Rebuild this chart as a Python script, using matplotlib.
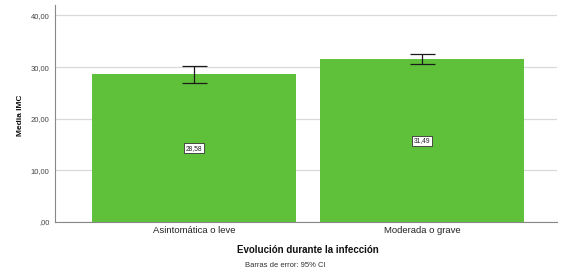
import matplotlib.pyplot as plt

plt.rcParams['font.family'] = ['Liberation Sans', 'DejaVu Sans']

# --- Datos ---
categorias = ["Asintomática o leve", "Moderada o grave"]
medias = [28.58, 31.49]
ic_inf = [26.9, 30.5]
ic_sup = [30.2, 32.5]
etiquetas = ["28,58", "31,49"]
yticks = [0, 10, 20, 30, 40]
ytick_labels = [",00", "10,00", "20,00", "30,00", "40,00"]

verde = "#5fc13a"

fig = plt.figure(figsize=(5.75, 2.77), dpi=100)
ax = fig.add_axes([0.0957, 0.1986, 0.873, 0.783])

x = list(range(len(categorias)))
err = [[m - lo for m, lo in zip(medias, ic_inf)],
       [hi - m for m, hi in zip(medias, ic_sup)]]
ax.bar(x, medias, width=0.895, color=verde, zorder=2)
ax.errorbar(x, medias, yerr=err, fmt="none", ecolor="#1a1a1a",
            elinewidth=0.9, capsize=9, capthick=0.9, zorder=3)

for xi, m, t in zip(x, medias, etiquetas):
    ax.text(xi, m / 2, t, ha="center", va="center", fontsize=4.8,
            color="#222222", zorder=4,
            bbox=dict(boxstyle="square,pad=0.25", fc="white",
                      ec="#333333", lw=0.6))

ax.set_xlim(-0.61, 1.59)
ax.set_ylim(0, 42)
ax.set_yticks(yticks)
ax.set_yticklabels(ytick_labels, fontsize=5.5, color="#444444")
ax.set_xticks(x)
ax.set_xticklabels(categorias, fontsize=6.8, color="#222222")
ax.tick_params(axis="both", length=0, pad=3)
ax.tick_params(axis="y", pad=4)

ax.grid(axis="y", color="#d9d9d9", lw=0.9, zorder=0)
ax.set_axisbelow(True)
for s in ["top", "right"]:
    ax.spines[s].set_visible(False)
for s in ["left", "bottom"]:
    ax.spines[s].set_color("#888888")
    ax.spines[s].set_linewidth(0.8)

fig.text(0.035, 0.585, "Media IMC", rotation=90, ha="center", va="center",
         fontsize=6, fontweight="bold", color="#111111")
fig.text(0.535, 0.099, "Evolución durante la infección", ha="center",
         va="center", fontsize=7, fontweight="bold", color="#111111")
fig.text(0.496, 0.043, "Barras de error: 95% CI", ha="center",
         va="center", fontsize=5.5, color="#333333")

fig.savefig("out.png", dpi=100)
